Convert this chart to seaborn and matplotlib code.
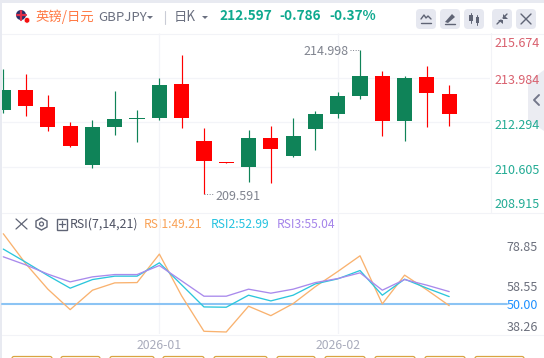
import numpy as np
import pandas as pd
import matplotlib
matplotlib.use("Agg")
import matplotlib.pyplot as plt
from matplotlib.patches import Circle, FancyBboxPatch, Polygon, Rectangle
import seaborn as sns

# daily candles
opens = [212.793, 213.545, 212.906, 212.193, 210.739, 212.166, 212.463, 212.493, 213.770, 211.629, 210.841,
         210.664, 211.742, 211.077, 212.080, 212.655, 213.331, 214.070, 212.392, 214.033, 213.394]
highs = [214.333, 214.145, 213.357, 212.343, 212.418, 213.507, 212.793, 213.995, 214.859, 212.117, 210.841,
         212.042, 212.193, 212.493, 212.756, 213.458, 215.047, 214.258, 214.070, 214.446, 213.732]
lows = [212.681, 212.579, 212.016, 211.404, 210.627, 211.866, 211.603, 212.418, 212.129, 209.639, 210.811,
        210.101, 210.063, 211.040, 211.303, 212.504, 213.218, 211.828, 211.641, 212.166, 212.204]
closes = [213.545, 212.955, 212.166, 211.453, 212.155, 212.455, 212.482, 213.732, 212.493, 210.889, 210.811,
          211.742, 211.329, 211.817, 212.655, 213.319, 214.070, 212.392, 213.995, 213.443, 212.640]

rsi1 = [85.65, 70.52, 57.49, 47.10, 56.98, 60.70, 60.85, 75.31, 54.07, 36.10, 35.74,
        48.83, 44.04, 50.15, 58.81, 66.45, 74.45, 50.00, 64.62, 57.13, 49.13]
rsi2 = [77.86, 71.24, 64.41, 58.00, 62.38, 64.11, 64.11, 70.88, 59.68, 48.47, 48.32,
        54.43, 51.53, 54.43, 60.19, 62.73, 66.96, 54.43, 62.58, 58.00, 53.72]
rsi3 = [73.94, 69.86, 65.13, 61.20, 63.75, 64.92, 64.92, 69.51, 61.71, 53.92, 53.92,
        57.49, 55.45, 57.49, 60.85, 62.89, 65.79, 56.98, 62.38, 59.52, 56.26]

price_labels = ["215.674", "213.984", "212.294", "210.605", "208.915"]
price_label_pos = [215.358, 213.958, 212.268, 210.578, 209.301]
price_grid = [213.984, 212.33, 210.64]
rsi_labels = ["78.85", "58.55", "50.00", "38.26"]
rsi_label_pos = [79.5, 59.3, 50, 39.0]
date_labels = ["2026-01", "2026-02"]
date_idx = [7, 15]

GREEN = "#0f8358"
RED = "#ff0000"
GRID = "#f3f4f8"
TEAL = "#0fa98f"
ICON = "#5f6475"
X_LEFT = -0.058
X_RIGHT = 21.83

sns.set_theme(style="white")
plt.rcParams["font.family"] = ["Noto Sans CJK SC", "DejaVu Sans"]

fig = plt.figure(figsize=(5.44, 3.58), dpi=100, facecolor="white")

# page furniture is placed in pixels on a full size axes
bg = fig.add_axes([0, 0, 1, 1], zorder=-1)
bg.set_xlim(0, 544)
bg.set_ylim(358, 0)
bg.axis("off")


def px_ax(top, bottom):
    ax = fig.add_axes([2 / 544, 1 - bottom / 358, 488 / 544, (bottom - top) / 358])
    ax.set_xlim(X_LEFT, X_RIGHT)
    ax.patch.set_alpha(0)
    for s in ax.spines.values():
        s.set_visible(False)
    return ax


def button(x):
    bg.add_patch(FancyBboxPatch((x + 3, 12), 14, 14, boxstyle="round,pad=3,rounding_size=4", fc="#e6e8f0", ec="none"))


# strips round the card
bg.add_patch(Rectangle((0, 0), 544, 3, fc="#e8eaf1", ec="none"))
bg.add_patch(Rectangle((0, 0), 2, 358, fc="#e8eaf1", ec="none"))
for yy in [33, 212, 334]:
    bg.plot([2, 544], [yy + 0.5, yy + 0.5], color="#f2f3f7", lw=0.8)
bg.plot([490.5, 490.5], [33, 212], color="#f2f3f7", lw=0.8)

# flag
bg.add_patch(Circle((21, 15), 5, fc="#27306a", ec="none"))
bg.plot([16.5, 25.5], [15, 15], color="#e0304a", lw=1.6)
bg.plot([21, 21], [10.5, 19.5], color="#e0304a", lw=1.6)
bg.add_patch(Circle((27, 20.3), 2.8, fc="#f50f0f", ec="white", lw=0.4))

bg.text(36, 17, "英镑/日元", color="#ff7a45", fontsize=9.6, va="center")
bg.text(98, 17.5, "GBPJPY", color="#6b7080", fontsize=9.5, va="center")
bg.add_patch(Polygon([[147, 16], [153, 16], [150, 19]], fc="#6b7080", ec="none"))
bg.plot([164.5, 164.5], [11, 24], color="#c9ccd6", lw=0.8)
bg.text(174, 16.5, "日K", color="#6b7080", fontsize=9.6, va="center")
bg.add_patch(Polygon([[202, 16], [208, 16], [205, 19]], fc="#6b7080", ec="none"))
bg.text(219, 16, "212.597", color=TEAL, fontsize=9.8, fontweight="bold", va="center")
bg.text(279, 16, "-0.786", color=TEAL, fontsize=9.8, fontweight="bold", va="center")
bg.text(329, 16, "-0.37%", color=TEAL, fontsize=9.8, fontweight="bold", va="center")

# toolbar
for bx in [416, 440, 464, 492, 516]:
    button(bx)
bg.plot([421, 424, 426, 428, 431], [19, 15, 18, 16, 19], color=ICON, lw=1)
bg.plot([421, 431], [23, 23], color=ICON, lw=1)
bg.add_patch(Polygon([[445, 22], [452, 14], [455, 17], [448, 23]], fc=ICON, ec="none"))
bg.plot([445, 455], [24, 24], color=ICON, lw=1)
bg.add_patch(Rectangle((469, 15), 3.5, 6, fc=ICON, ec="none"))
bg.add_patch(Rectangle((475.5, 17), 3.5, 6, fc=ICON, ec="none"))
bg.plot([470.7, 470.7], [13, 23], color=ICON, lw=0.7)
bg.plot([477.2, 477.2], [15, 25], color=ICON, lw=0.7)
bg.plot([497, 501], [24, 20], color=ICON, lw=1)
bg.plot([503, 507], [18, 14], color=ICON, lw=1)
bg.add_patch(Polygon([[498, 19.5], [502.5, 19.5], [502.5, 24]], fc=ICON, ec="none"))
bg.add_patch(Polygon([[503, 14], [503, 18.5], [507.5, 18.5]], fc=ICON, ec="none"))
bg.plot([521, 531], [14, 24], color=ICON, lw=1)
bg.plot([531, 521], [14, 24], color=ICON, lw=1)

# collapse handle on the right
bg.add_patch(Polygon([[528, 82], [544, 70], [544, 131], [528, 120]], fc="#ebecf2", ec="none"))
bg.plot([539, 534, 539], [95, 100, 105], color="#73778a", lw=1.4)

# rsi header
bg.plot([16, 27], [219, 229], color=ICON, lw=0.9)
bg.plot([27, 16], [219, 229], color=ICON, lw=0.9)
bg.add_patch(Polygon([[41.5, 218], [47, 221], [47, 227], [41.5, 230], [36, 227], [36, 221]], fc="none", ec=ICON, lw=1))
bg.add_patch(Circle((41.5, 224), 2, fc="none", ec=ICON, lw=0.9))
bg.add_patch(Rectangle((56.5, 218.5), 10.5, 11, fc="none", ec=ICON, lw=1))
bg.plot([58.8, 64.7], [224, 224], color=ICON, lw=0.9)
bg.plot([61.7, 61.7], [221, 227], color=ICON, lw=0.9)
bg.text(70, 224, "RSI(7,14,21)", color="#4e5263", fontsize=8.9, va="center")
bg.text(144, 224, "RSI1:49.21", color="#f9a257", fontsize=8.7, va="center")
bg.text(211, 224, "RSI2:52.99", color="#25c3e0", fontsize=8.7, va="center")
bg.text(277, 224, "RSI3:55.04", color="#a585ea", fontsize=8.7, va="center")

# tabs cut off at the bottom edge
for x0, x1 in [(12, 52), (61, 100), (110, 154), (163, 204), (214, 267), (277, 315), (325, 365), (375, 415), (425, 465), (475, 524)]:
    bg.add_patch(FancyBboxPatch((x0, 356.5), x1 - x0, 10, boxstyle="round,pad=0,rounding_size=2", fc="white", ec="#d9a441", lw=0.9))

# candles
idx = np.arange(len(opens))
df = pd.DataFrame({"idx": idx, "open": opens, "high": highs, "low": lows, "close": closes})
df["color"] = np.where(df["close"] >= df["open"], GREEN, RED)

ax = px_ax(33, 212)
ax.set_ylim(208.963, 215.685)
ax.hlines(price_grid, X_LEFT, X_RIGHT, color=GRID, lw=0.9, zorder=0)
ax.vlines(date_idx, 208.963, 215.685, color=GRID, lw=0.9, zorder=0)
ax.vlines(df["idx"], df["low"], df["high"], color=df["color"], lw=0.85, zorder=2)
ax.bar(df["idx"], (df["close"] - df["open"]).abs(), bottom=df[["open", "close"]].min(axis=1),
       width=0.68, color=df["color"], linewidth=0, zorder=3)
ax.set_xticks([])
ax.yaxis.tick_right()
ax.set_yticks(price_label_pos, price_labels)
ax.tick_params(axis="y", length=0, pad=3, labelsize=9)
for lab, c in zip(ax.get_yticklabels(), ["#d9606e"] * 2 + ["#22ab94"] * 3):
    lab.set_color(c)

# high and low marks
hi = df["high"].idxmax()
lo = df["low"].idxmin()
ax.plot([hi - 0.45, hi], [highs[hi], highs[hi]], color="#80848f", lw=0.7, ls=":")
ax.plot([lo, lo + 0.45], [lows[lo], lows[lo]], color="#80848f", lw=0.7, ls=":")
ax.text(hi - 0.5, highs[hi] - 0.06, "214.998", color="#80848f", fontsize=9, ha="right", va="center")
ax.text(lo + 0.5, lows[lo] - 0.09, "209.591", color="#80848f", fontsize=9, ha="left", va="center")

# rsi panel
rsi = pd.DataFrame({"idx": idx, "RSI1": rsi1, "RSI2": rsi2, "RSI3": rsi3}).melt("idx", var_name="line", value_name="rsi")
ax2 = px_ax(212, 334)
ax2.set_ylim(34.72, 96.7)
ax2.vlines(date_idx, 34.72, 96.7, color=GRID, lw=0.9, zorder=0)
sns.lineplot(data=rsi, x="idx", y="rsi", hue="line", palette=["#f9b26f", "#2bc6dc", "#a98aec"],
             linewidth=0.95, legend=False, errorbar=None, ax=ax2, zorder=3)
ax2.axhline(50, xmin=0, xmax=1.035, color="#8cc4f4", lw=1.5, clip_on=False, zorder=2)
ax2.set_xlim(X_LEFT, X_RIGHT)
ax2.set_xlabel("")
ax2.set_ylabel("")
ax2.set_xticks(date_idx, date_labels)
ax2.tick_params(axis="x", length=0, pad=3.5, labelsize=8.8, labelcolor="#a9acbc")
ax2.yaxis.tick_right()
ax2.set_yticks(rsi_label_pos, rsi_labels)
ax2.tick_params(axis="y", length=0, pad=12, labelsize=9, labelcolor="#6b6f7c")
ax2.get_yticklabels()[2].set_color("#1e90ff")

fig.savefig("out.png", dpi=100)
